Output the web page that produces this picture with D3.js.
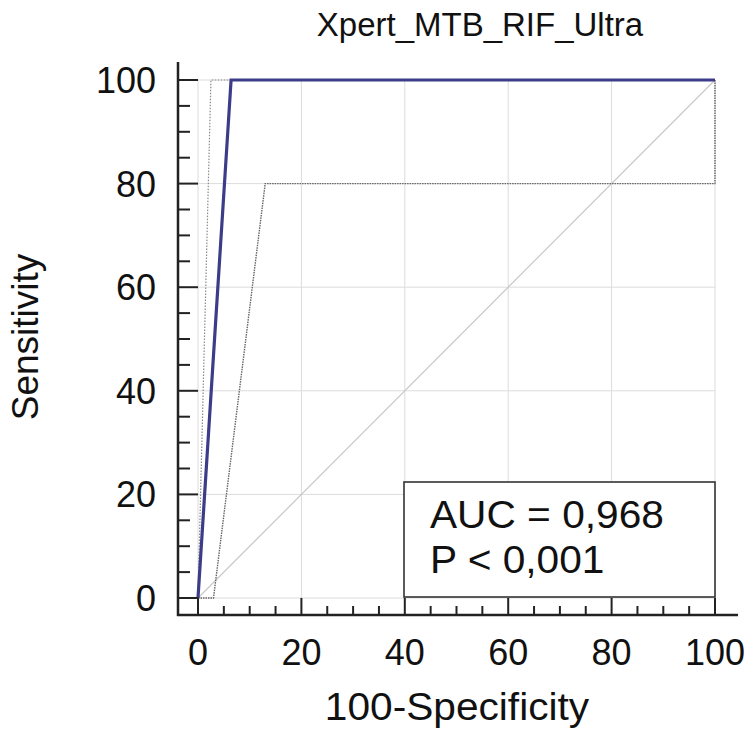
<!DOCTYPE html>
<html><head><meta charset="utf-8">
<script src="https://cdn.jsdelivr.net/npm/d3@7"></script>
<style>body{margin:0;background:#fff}svg{display:block}text{font-family:"Liberation Sans",Arial,sans-serif;fill:#111}</style>
</head><body>
<svg id="c" width="752" height="734"></svg>
<script>
const title = "Xpert_MTB_RIF_Ultra";
const xLabel = "100-Specificity";
const yLabel = "Sensitivity";
const tickValues = [0, 20, 40, 60, 80, 100];
const minorTicks = d3.range(0, 101, 5);
// ROC curve (100-Specificity, Sensitivity)
const rocX = [0, 6.4, 100];
const rocY = [0, 100, 100];
// 95% confidence bounds
const upperX = [0, 2.5, 100];
const upperY = [0, 100, 100];
const lowerX = [0, 3, 13, 100, 100];
const lowerY = [0, 0, 80, 80, 100];
const diagX = [0, 100];
const diagY = [0, 100];
const legendLines = ["AUC = 0,968", "P < 0,001"];

const svg = d3.select("#c");
const x = d3.scaleLinear().domain([0, 100]).range([198, 715]);
const y = d3.scaleLinear().domain([0, 100]).range([598, 80]);
const axX = 178, axY = 615;

// grid
const g = svg.append("g");
tickValues.forEach(v => {
  g.append("line").attr("x1", x(v)).attr("x2", x(v)).attr("y1", y(100)).attr("y2", y(0))
    .attr("stroke", "#dcdcdc").attr("stroke-width", 1);
  g.append("line").attr("x1", x(0)).attr("x2", x(100)).attr("y1", y(v)).attr("y2", y(v))
    .attr("stroke", "#dcdcdc").attr("stroke-width", 1);
});

const line = d3.line().x(d => x(d[0])).y(d => y(d[1]));
const zip = (a, b) => a.map((v, i) => [v, b[i]]);

// diagonal
svg.append("path").attr("d", line(zip(diagX, diagY))).attr("fill", "none")
  .attr("stroke", "#c8c8c8").attr("stroke-width", 1.2);
// CI bounds
svg.append("path").attr("d", line(zip(upperX, upperY))).attr("fill", "none")
  .attr("stroke", "#8a8a8a").attr("stroke-width", 1.2).attr("stroke-dasharray", "1.5,1.5");
svg.append("path").attr("d", line(zip(lowerX, lowerY))).attr("fill", "none")
  .attr("stroke", "#666").attr("stroke-width", 1.4).attr("stroke-dasharray", "1.5,1");
// ROC
svg.append("path").attr("d", line(zip(rocX, rocY))).attr("fill", "none")
  .attr("stroke", "#3c3c88").attr("stroke-width", 3.2).attr("stroke-linejoin", "miter");

// axes
svg.append("line").attr("x1", axX).attr("x2", axX).attr("y1", 62).attr("y2", axY + 1)
  .attr("stroke", "#222").attr("stroke-width", 2.5);
svg.append("line").attr("x1", axX - 1).attr("x2", 738).attr("y1", axY).attr("y2", axY)
  .attr("stroke", "#222").attr("stroke-width", 2.5);
minorTicks.forEach(v => {
  const major = v % 20 === 0;
  svg.append("line").attr("x1", axX).attr("x2", major ? x(0) : axX + 12)
    .attr("y1", y(v)).attr("y2", y(v)).attr("stroke", "#222").attr("stroke-width", 2);
  svg.append("line").attr("x1", x(v)).attr("x2", x(v))
    .attr("y1", axY).attr("y2", major ? y(0) : axY - 9).attr("stroke", "#222").attr("stroke-width", 2);
});
tickValues.forEach(v => {
  svg.append("text").attr("x", 156).attr("y", y(v) + 13).attr("text-anchor", "end")
    .attr("font-size", 36).text(v);
  svg.append("text").attr("x", x(v)).attr("y", 665).attr("text-anchor", "middle")
    .attr("font-size", 36).text(v);
});

// legend box
svg.append("rect").attr("x", 404).attr("y", 482).attr("width", 311).attr("height", 115)
  .attr("fill", "#fff").attr("stroke", "#333").attr("stroke-width", 1.6);
legendLines.forEach((t, i) => {
  svg.append("text").attr("x", 430).attr("y", 528 + i * 45).attr("font-size", 38)
    .attr("transform", "translate(430,0) scale(1.07,1) translate(-430,0)").text(t);
});

// titles
svg.append("text").attr("x", 480).attr("y", 36).attr("text-anchor", "middle")
  .attr("font-size", 33).text(title);
svg.append("text").attr("x", 457).attr("y", 720).attr("text-anchor", "middle")
  .attr("font-size", 38).attr("transform", "translate(457,0) scale(1.07,1) translate(-457,0)").text(xLabel);
svg.append("text").attr("transform", "translate(38,337) rotate(-90)").attr("text-anchor", "middle")
  .attr("font-size", 37).text(yLabel);
</script>
</body></html>
